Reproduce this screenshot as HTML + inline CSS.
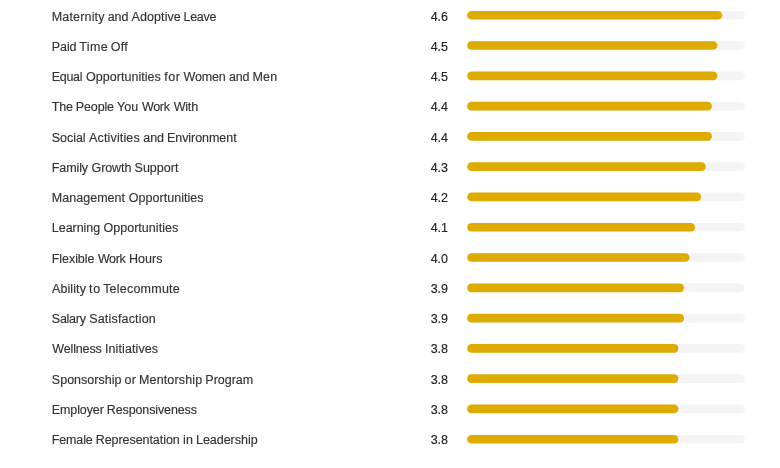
<!DOCTYPE html>
<html lang="en"><head><meta charset="utf-8"><title>Ratings</title>
<style>
html,body{margin:0;padding:0;background:#fff;}
body{width:780px;height:468px;position:relative;overflow:hidden;font-family:"Liberation Sans",sans-serif;font-size:12.5px;}
.t{position:absolute;left:0;width:460px;height:30px;line-height:30px;color:#333337;}
.t span{position:absolute;top:0;white-space:nowrap;-webkit-text-stroke:0.15px currentColor;}
.t .v{color:#222226;}
.bars{position:absolute;left:0;top:0;width:780px;height:468px;}
.bars .tr{fill:#f4f4f4;}
.bars .fl{fill:#deab00;}
</style></head><body>
<div class="t" style="top:2px"><span style="left:51.80px;letter-spacing:0.156px">Maternity</span> <span style="left:107.75px;letter-spacing:-0.125px">and</span> <span style="left:131.61px;letter-spacing:0.071px">Adoptive</span> <span style="left:183.55px;letter-spacing:-0.312px">Leave</span> <span class="v" style="left:430.70px;letter-spacing:-0.080px">4.6</span></div>
<div class="t" style="top:32px"><span style="left:51.80px;letter-spacing:-0.083px">Paid</span> <span style="left:79.36px;letter-spacing:0.333px">Time</span> <span style="left:110.80px;letter-spacing:0.250px">Off</span> <span class="v" style="left:430.70px;letter-spacing:-0.080px">4.5</span></div>
<div class="t" style="top:62px"><span style="left:51.80px;letter-spacing:-0.312px">Equal</span> <span style="left:85.97px;letter-spacing:0.042px">Opportunities</span> <span style="left:164.25px;letter-spacing:0.500px">for</span> <span style="left:183.56px;letter-spacing:-0.188px">Women</span> <span style="left:228.94px;letter-spacing:-0.125px">and</span> <span style="left:252.55px;letter-spacing:0.125px">Men</span> <span class="v" style="left:430.70px;letter-spacing:-0.080px">4.5</span></div>
<div class="t" style="top:92px"><span style="left:51.80px;letter-spacing:-0.250px">The</span> <span style="left:75.86px;letter-spacing:-0.150px">People</span> <span style="left:116.97px;letter-spacing:0.125px">You</span> <span style="left:141.94px;letter-spacing:-0.333px">Work</span> <span style="left:173.64px;letter-spacing:-0.167px">With</span> <span class="v" style="left:430.70px;letter-spacing:-0.080px">4.4</span></div>
<div class="t" style="top:123px"><span style="left:51.80px;letter-spacing:-0.050px">Social</span> <span style="left:89.11px;letter-spacing:0.139px">Activities</span> <span style="left:143.34px;letter-spacing:-0.125px">and</span> <span style="left:166.94px;letter-spacing:-0.050px">Environment</span> <span class="v" style="left:430.70px;letter-spacing:-0.080px">4.4</span></div>
<div class="t" style="top:153px"><span style="left:51.80px;letter-spacing:-0.100px">Family</span> <span style="left:91.59px;letter-spacing:-0.100px">Growth</span> <span style="left:134.58px;letter-spacing:0.000px">Support</span> <span class="v" style="left:430.70px;letter-spacing:-0.080px">4.3</span></div>
<div class="t" style="top:183px"><span style="left:51.80px;letter-spacing:0.028px">Management</span> <span style="left:128.78px;letter-spacing:0.042px">Opportunities</span> <span class="v" style="left:430.70px;letter-spacing:-0.080px">4.2</span></div>
<div class="t" style="top:213px"><span style="left:51.80px;letter-spacing:-0.036px">Learning</span> <span style="left:103.41px;letter-spacing:0.042px">Opportunities</span> <span class="v" style="left:430.70px;letter-spacing:-0.080px">4.1</span></div>
<div class="t" style="top:244px"><span style="left:51.80px;letter-spacing:-0.071px">Flexible</span> <span style="left:97.89px;letter-spacing:-0.333px">Work</span> <span style="left:129.09px;letter-spacing:0.000px">Hours</span> <span class="v" style="left:430.70px;letter-spacing:-0.080px">4.0</span></div>
<div class="t" style="top:274px"><span style="left:52.05px;letter-spacing:0.083px">Ability</span> <span style="left:88.94px;letter-spacing:0.750px">to</span> <span style="left:103.14px;letter-spacing:0.225px">Telecommute</span> <span class="v" style="left:430.70px;letter-spacing:-0.080px">3.9</span></div>
<div class="t" style="top:304px"><span style="left:51.80px;letter-spacing:-0.250px">Salary</span> <span style="left:89.20px;letter-spacing:0.182px">Satisfaction</span> <span class="v" style="left:430.70px;letter-spacing:-0.080px">3.9</span></div>
<div class="t" style="top:334px"><span style="left:52.30px;letter-spacing:-0.143px">Wellness</span> <span style="left:104.94px;letter-spacing:0.100px">Initiatives</span> <span class="v" style="left:430.70px;letter-spacing:-0.080px">3.8</span></div>
<div class="t" style="top:365px"><span style="left:51.80px;letter-spacing:0.025px">Sponsorship</span> <span style="left:124.58px;letter-spacing:0.250px">or</span> <span style="left:139.03px;letter-spacing:0.139px">Mentorship</span> <span style="left:205.31px;letter-spacing:0.000px">Program</span> <span class="v" style="left:430.70px;letter-spacing:-0.080px">3.8</span></div>
<div class="t" style="top:395px"><span style="left:51.80px;letter-spacing:-0.107px">Employer</span> <span style="left:106.75px;letter-spacing:-0.115px">Responsiveness</span> <span class="v" style="left:430.70px;letter-spacing:-0.080px">3.8</span></div>
<div class="t" style="top:425px"><span style="left:51.80px;letter-spacing:-0.150px">Female</span> <span style="left:95.73px;letter-spacing:-0.058px">Representation</span> <span style="left:182.95px;letter-spacing:0.250px">in</span> <span style="left:196.00px;letter-spacing:-0.028px">Leadership</span> <span class="v" style="left:430.70px;letter-spacing:-0.080px">3.8</span></div>
<svg class="bars" viewBox="0 0 780 468">
<rect class="tr" x="467.2" y="10.88" width="277.6" height="8.7" rx="4.3"/><rect class="fl" x="467.2" y="10.88" width="255.00" height="8.7" rx="4.3"/>
<rect class="tr" x="467.2" y="41.17" width="277.6" height="8.7" rx="4.3"/><rect class="fl" x="467.2" y="41.17" width="250.25" height="8.7" rx="4.3"/>
<rect class="tr" x="467.2" y="71.45" width="277.6" height="8.7" rx="4.3"/><rect class="fl" x="467.2" y="71.45" width="250.25" height="8.7" rx="4.3"/>
<rect class="tr" x="467.2" y="101.74" width="277.6" height="8.7" rx="4.3"/><rect class="fl" x="467.2" y="101.74" width="244.70" height="8.7" rx="4.3"/>
<rect class="tr" x="467.2" y="132.02" width="277.6" height="8.7" rx="4.3"/><rect class="fl" x="467.2" y="132.02" width="244.70" height="8.7" rx="4.3"/>
<rect class="tr" x="467.2" y="162.31" width="277.6" height="8.7" rx="4.3"/><rect class="fl" x="467.2" y="162.31" width="238.60" height="8.7" rx="4.3"/>
<rect class="tr" x="467.2" y="192.59" width="277.6" height="8.7" rx="4.3"/><rect class="fl" x="467.2" y="192.59" width="234.00" height="8.7" rx="4.3"/>
<rect class="tr" x="467.2" y="222.88" width="277.6" height="8.7" rx="4.3"/><rect class="fl" x="467.2" y="222.88" width="227.80" height="8.7" rx="4.3"/>
<rect class="tr" x="467.2" y="253.17" width="277.6" height="8.7" rx="4.3"/><rect class="fl" x="467.2" y="253.17" width="222.35" height="8.7" rx="4.3"/>
<rect class="tr" x="467.2" y="283.45" width="277.6" height="8.7" rx="4.3"/><rect class="fl" x="467.2" y="283.45" width="216.90" height="8.7" rx="4.3"/>
<rect class="tr" x="467.2" y="313.74" width="277.6" height="8.7" rx="4.3"/><rect class="fl" x="467.2" y="313.74" width="216.90" height="8.7" rx="4.3"/>
<rect class="tr" x="467.2" y="344.02" width="277.6" height="8.7" rx="4.3"/><rect class="fl" x="467.2" y="344.02" width="211.16" height="8.7" rx="4.3"/>
<rect class="tr" x="467.2" y="374.31" width="277.6" height="8.7" rx="4.3"/><rect class="fl" x="467.2" y="374.31" width="211.16" height="8.7" rx="4.3"/>
<rect class="tr" x="467.2" y="404.59" width="277.6" height="8.7" rx="4.3"/><rect class="fl" x="467.2" y="404.59" width="211.16" height="8.7" rx="4.3"/>
<rect class="tr" x="467.2" y="434.88" width="277.6" height="8.7" rx="4.3"/><rect class="fl" x="467.2" y="434.88" width="211.16" height="8.7" rx="4.3"/>
</svg>
</body></html>
